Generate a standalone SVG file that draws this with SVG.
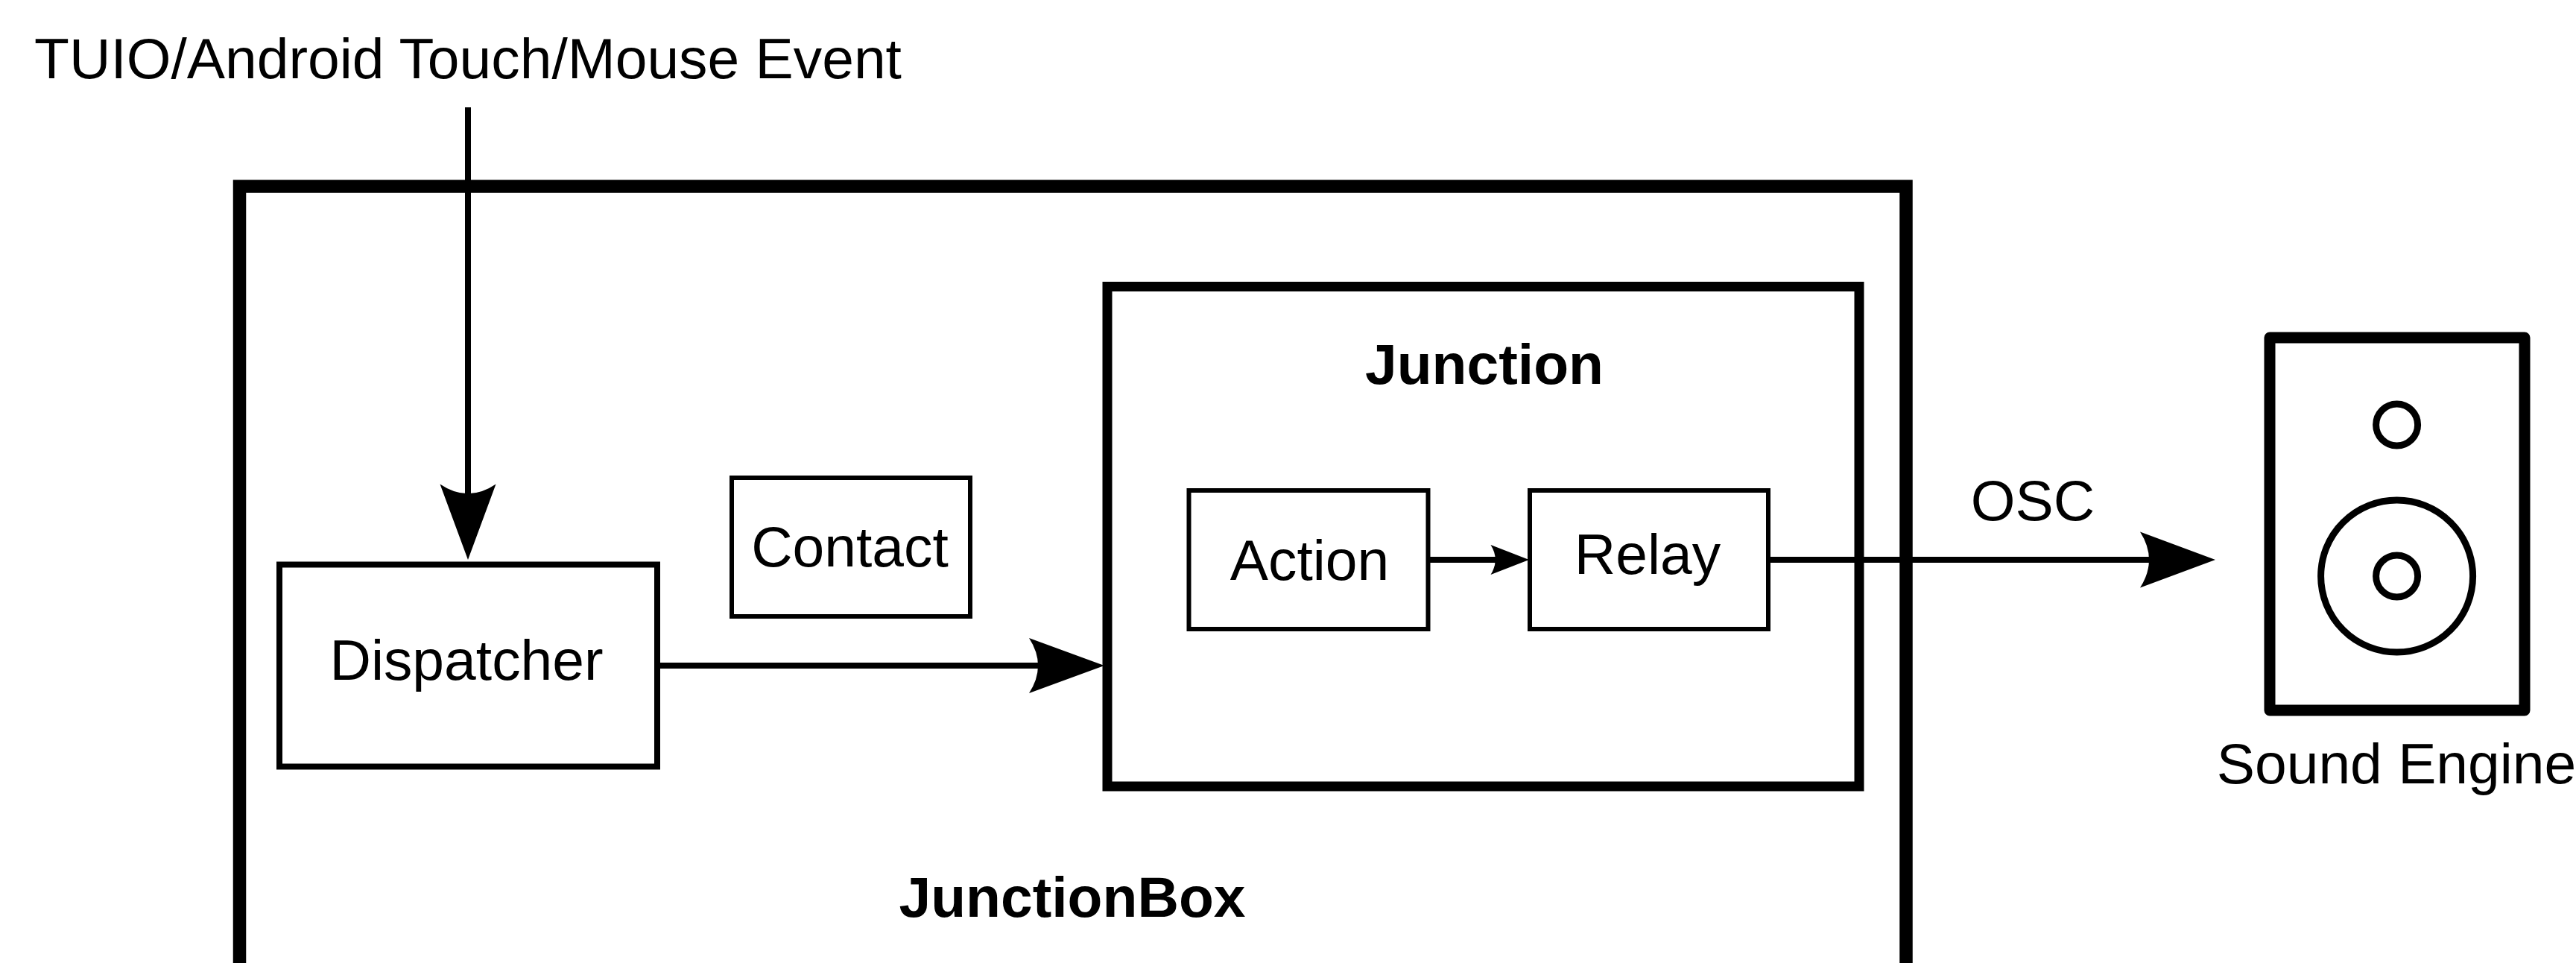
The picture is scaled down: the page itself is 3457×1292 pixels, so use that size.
<svg xmlns="http://www.w3.org/2000/svg" width="3457" height="1292" viewBox="0 0 3457 1292">
<style>
.box{fill:none;stroke:#000}
.t{font-family:"Liberation Sans",Arial,sans-serif;font-size:76.800px;fill:#000;text-anchor:middle}
.b{font-weight:bold}
.c{fill:none;stroke:#000;stroke-width:8}
.h{fill:#000;stroke:none}
</style>
<rect width="3457" height="1292" fill="#fff"/>
<g id="junctionbox"><rect class="box" x="321.500" y="250" width="2236.500" height="1100" stroke-width="17.500"/><text class="t b" x="1439" y="1230">JunctionBox</text></g>
<g id="dispatcher"><rect class="box" x="375" y="757.500" width="507" height="271" stroke-width="8"/><text class="t" x="626" y="912">Dispatcher</text></g>
<g id="contact"><rect class="box" x="982" y="641" width="320" height="186" stroke-width="6"/><text class="t" x="1140.500" y="760">Contact</text></g>
<g id="junction"><rect class="box" x="1486" y="384.500" width="1009" height="670.500" stroke-width="13"/><text class="t b" x="1992" y="515">Junction</text></g>
<g id="action"><rect class="box" x="1595.500" y="658" width="321" height="186" stroke-width="6"/><text class="t" x="1757.500" y="778">Action</text></g>
<g id="relay"><rect class="box" x="2053" y="658" width="320" height="186" stroke-width="6"/><text class="t" x="2211" y="770">Relay</text></g>
<g id="sound-engine">
<rect class="box" x="3046" y="453" width="342" height="500" stroke-width="15" stroke-linejoin="round"/>
<circle class="box" cx="3216.600" cy="570" r="28" stroke-width="9"/>
<circle class="box" cx="3216.600" cy="773" r="102" stroke-width="9"/>
<circle class="box" cx="3216.600" cy="773" r="28" stroke-width="9"/>
<text class="t" x="3216" y="1051">Sound Engine</text>
</g>
<g id="event-label"><text class="t" x="628" y="105">TUIO/Android Touch/Mouse Event</text></g>
<g id="connectors">
<path class="c" d="M628 144V665"/>
<path class="h" d="M628 751L590.500 649.500Q628 675 665.500 649.500Z"/>
<path class="c" d="M886 893H1395"/>
<path class="h" d="M1482 893L1381 856Q1405 893 1381 930Z"/>
<path class="c" d="M1919 751H2008"/>
<path class="h" d="M2052 751L2000.500 731Q2013 751 2000.500 771Z"/>
<path class="c" d="M2376 751H2886"/>
<path class="h" d="M2973 751L2872 713.500Q2896 751 2872 788.500Z"/>
</g>
<text class="t" x="2728" y="698">OSC</text>
</svg>
